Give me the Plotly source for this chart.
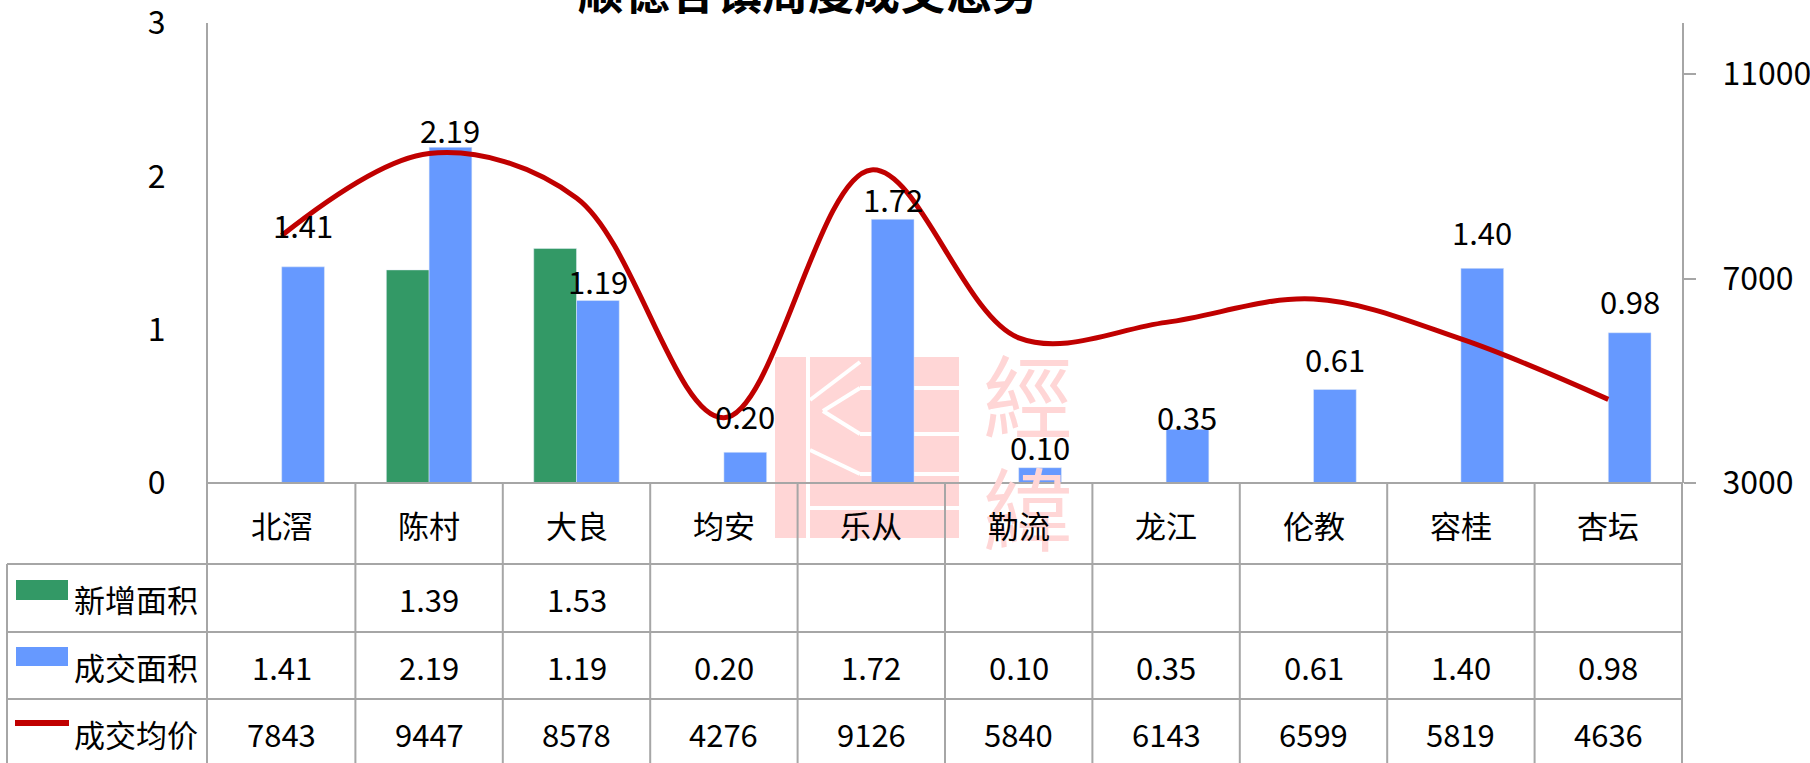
import plotly.graph_objects as go

categories = ["北滘", "陈村", "大良", "均安", "乐从", "勒流", "龙江", "伦教", "容桂", "杏坛"]
new_area = [None, 1.39, 1.53, None, None, None, None, None, None, None]
deal_area = [1.41, 2.19, 1.19, 0.20, 1.72, 0.10, 0.35, 0.61, 1.40, 0.98]
avg_price = [7843, 9447, 8578, 4276, 9126, 5840, 6143, 6599, 5819, 4636]
series_names = ["新增面积", "成交面积", "成交均价"]
title_text = "顺德各镇周度成交态势"
left_ticks = [0, 1, 2, 3]
right_ticks = [3000, 7000, 11000]
right_tick_text = ["3000", "7000", "11000"]
# vertical distance (px) of each data label's centre above its bar top
label_gap = [42, 18, 20, 37, 21, 21, 13, 31, 37, 32]

W, H = 1810, 763
L, R, T, B = 208, 1682, 23, 483
FONT = "Noto Sans CJK SC"
GREEN = "#339966"
BLUE = "#6699FF"
RED = "#C00000"
GRID = "#A6A6A6"
PINK = "#FFD6D6"


def X(px):
    return (px - L) / (R - L)


def Y(py):
    return (B - py) / (B - T)


fig = go.Figure()
fig.add_trace(go.Bar(x=categories, y=new_area, name=series_names[0], marker_color=GREEN,
                     yaxis="y"))
fig.add_trace(go.Bar(x=categories, y=deal_area, name=series_names[1], marker_color=BLUE,
                     yaxis="y"))
fig.add_trace(go.Scatter(x=categories, y=avg_price, name=series_names[2], mode="lines",
                         line=dict(color=RED, width=5, shape="spline", smoothing=1.0),
                         yaxis="y2", cliponaxis=False))

shapes = []
ann = []

colw = (R - L) / len(categories)
bargap = 0.42
bar_w = colw * (1 - bargap) / 2

# watermark characters (drawn first so other texts sit on top)
for txt, py in (("經", 392), ("緯", 505)):
    ann.append(dict(xref="paper", yref="paper", x=X(1028), y=Y(py), text=txt, showarrow=False,
                    xanchor="center", yanchor="middle",
                    font=dict(size=90, color=PINK, family=FONT)))

# data labels over the blue bars
for c, v, g in zip(categories, deal_area, label_gap):
    ann.append(dict(xref="x", yref="y", x=c, y=v, text=f"{v:.2f}", showarrow=False,
                    xanchor="center", yanchor="middle", xshift=bar_w / 2, yshift=g,
                    font=dict(size=31, color="black", family=FONT)))


def pline(x0, y0, x1, y1, color=GRID, width=2, layer="above"):
    shapes.append(dict(type="line", xref="paper", yref="paper", x0=X(x0), x1=X(x1), y0=Y(y0), y1=Y(y1),
                       line=dict(color=color, width=width), layer=layer))


# watermark logo (below the data)
shapes.append(dict(type="rect", xref="paper", yref="paper", x0=X(775), x1=X(959), y0=Y(357), y1=Y(538),
                   fillcolor=PINK, line=dict(width=0), layer="below"))
wl = [
    (808, 357, 808, 538),
    (810, 400, 860, 362),
    (860, 388, 823, 411),
    (823, 411, 860, 434),
    (860, 388, 959, 388),
    (860, 434, 959, 434),
    (810, 450, 860, 474),
    (860, 474, 959, 474),
    (810, 508, 959, 508),
]
for a in wl:
    pline(*a, color="white", width=4, layer="below")

row_lines = [564, 632, 699, 767]
bottom = 775
for k in range(1, len(categories)):
    pline(L + k * colw, B, L + k * colw, bottom)
for xx in (L - 1, R):
    pline(xx, B, xx, bottom)
pline(7, 564, 7, bottom)
pline(L - 1, B, R, B)
for ry in row_lines:
    pline(7, ry, R, ry)

# legend keys
shapes.append(dict(type="rect", xref="paper", yref="paper", x0=X(16), x1=X(68), y0=Y(580), y1=Y(600),
                   fillcolor=GREEN, line=dict(width=0)))
shapes.append(dict(type="rect", xref="paper", yref="paper", x0=X(16), x1=X(68), y0=Y(647), y1=Y(666),
                   fillcolor=BLUE, line=dict(width=0)))
pline(15, 723, 69, 723, color=RED, width=6)

row_centers = [524, 598, 666, 733]
for i, name in enumerate(series_names):
    ann.append(dict(xref="paper", yref="paper", x=X(72), y=Y(row_centers[i + 1]), text=name,
                    showarrow=False, xanchor="left", yanchor="middle",
                    font=dict(size=31, color="black", family=FONT)))

rows = [
    categories,
    ["" if v is None else f"{v:.2f}" for v in new_area],
    [f"{v:.2f}" for v in deal_area],
    [str(v) for v in avg_price],
]
for r, vals in enumerate(rows):
    for k, t in enumerate(vals):
        if not t:
            continue
        ann.append(dict(xref="paper", yref="paper", x=X(L + (k + 0.5) * colw), y=Y(row_centers[r]),
                        text=t, showarrow=False, xanchor="center", yanchor="middle",
                        font=dict(size=31, color="black", family=FONT)))

# title (cut off at top in the reference)
ann.append(dict(xref="paper", yref="paper", x=X(808), y=Y(-11), text=f"<b>{title_text}</b>",
                showarrow=False, xanchor="center", yanchor="middle",
                font=dict(size=46, color="black", family=FONT)))

fig.update_layout(
    width=W, height=H,
    margin=dict(l=L, r=W - R, t=T, b=H - B, autoexpand=False),
    paper_bgcolor="white", plot_bgcolor="white",
    barmode="group", bargap=bargap, bargroupgap=0,
    showlegend=False,
    font=dict(family=FONT, color="black"),
    xaxis=dict(type="category", range=[-0.5, len(categories) - 0.5], showticklabels=False,
               showgrid=False, zeroline=False, showline=False, ticks="", automargin=False),
    yaxis=dict(range=[0, 3.0005], tickvals=left_ticks, showgrid=False, zeroline=False,
               showline=True, linecolor=GRID, linewidth=2, ticks="", automargin=False,
               ticklabeloverflow="allow",
               ticklabelstandoff=34, tickfont=dict(size=32, family=FONT)),
    yaxis2=dict(range=[3000, 12000], tickvals=right_ticks, ticktext=right_tick_text,
                overlaying="y", side="right", automargin=False, ticklabeloverflow="allow",
                showgrid=False, zeroline=False, showline=True, linecolor=GRID, linewidth=2,
                ticks="outside", ticklen=12, tickcolor=GRID, tickwidth=2,
                ticklabelstandoff=20, tickfont=dict(size=32, family=FONT)),
    shapes=shapes, annotations=ann,
)

fig.write_html("out.html", config={"displayModeBar": False},
               post_script="document.body.style.margin='0';")
